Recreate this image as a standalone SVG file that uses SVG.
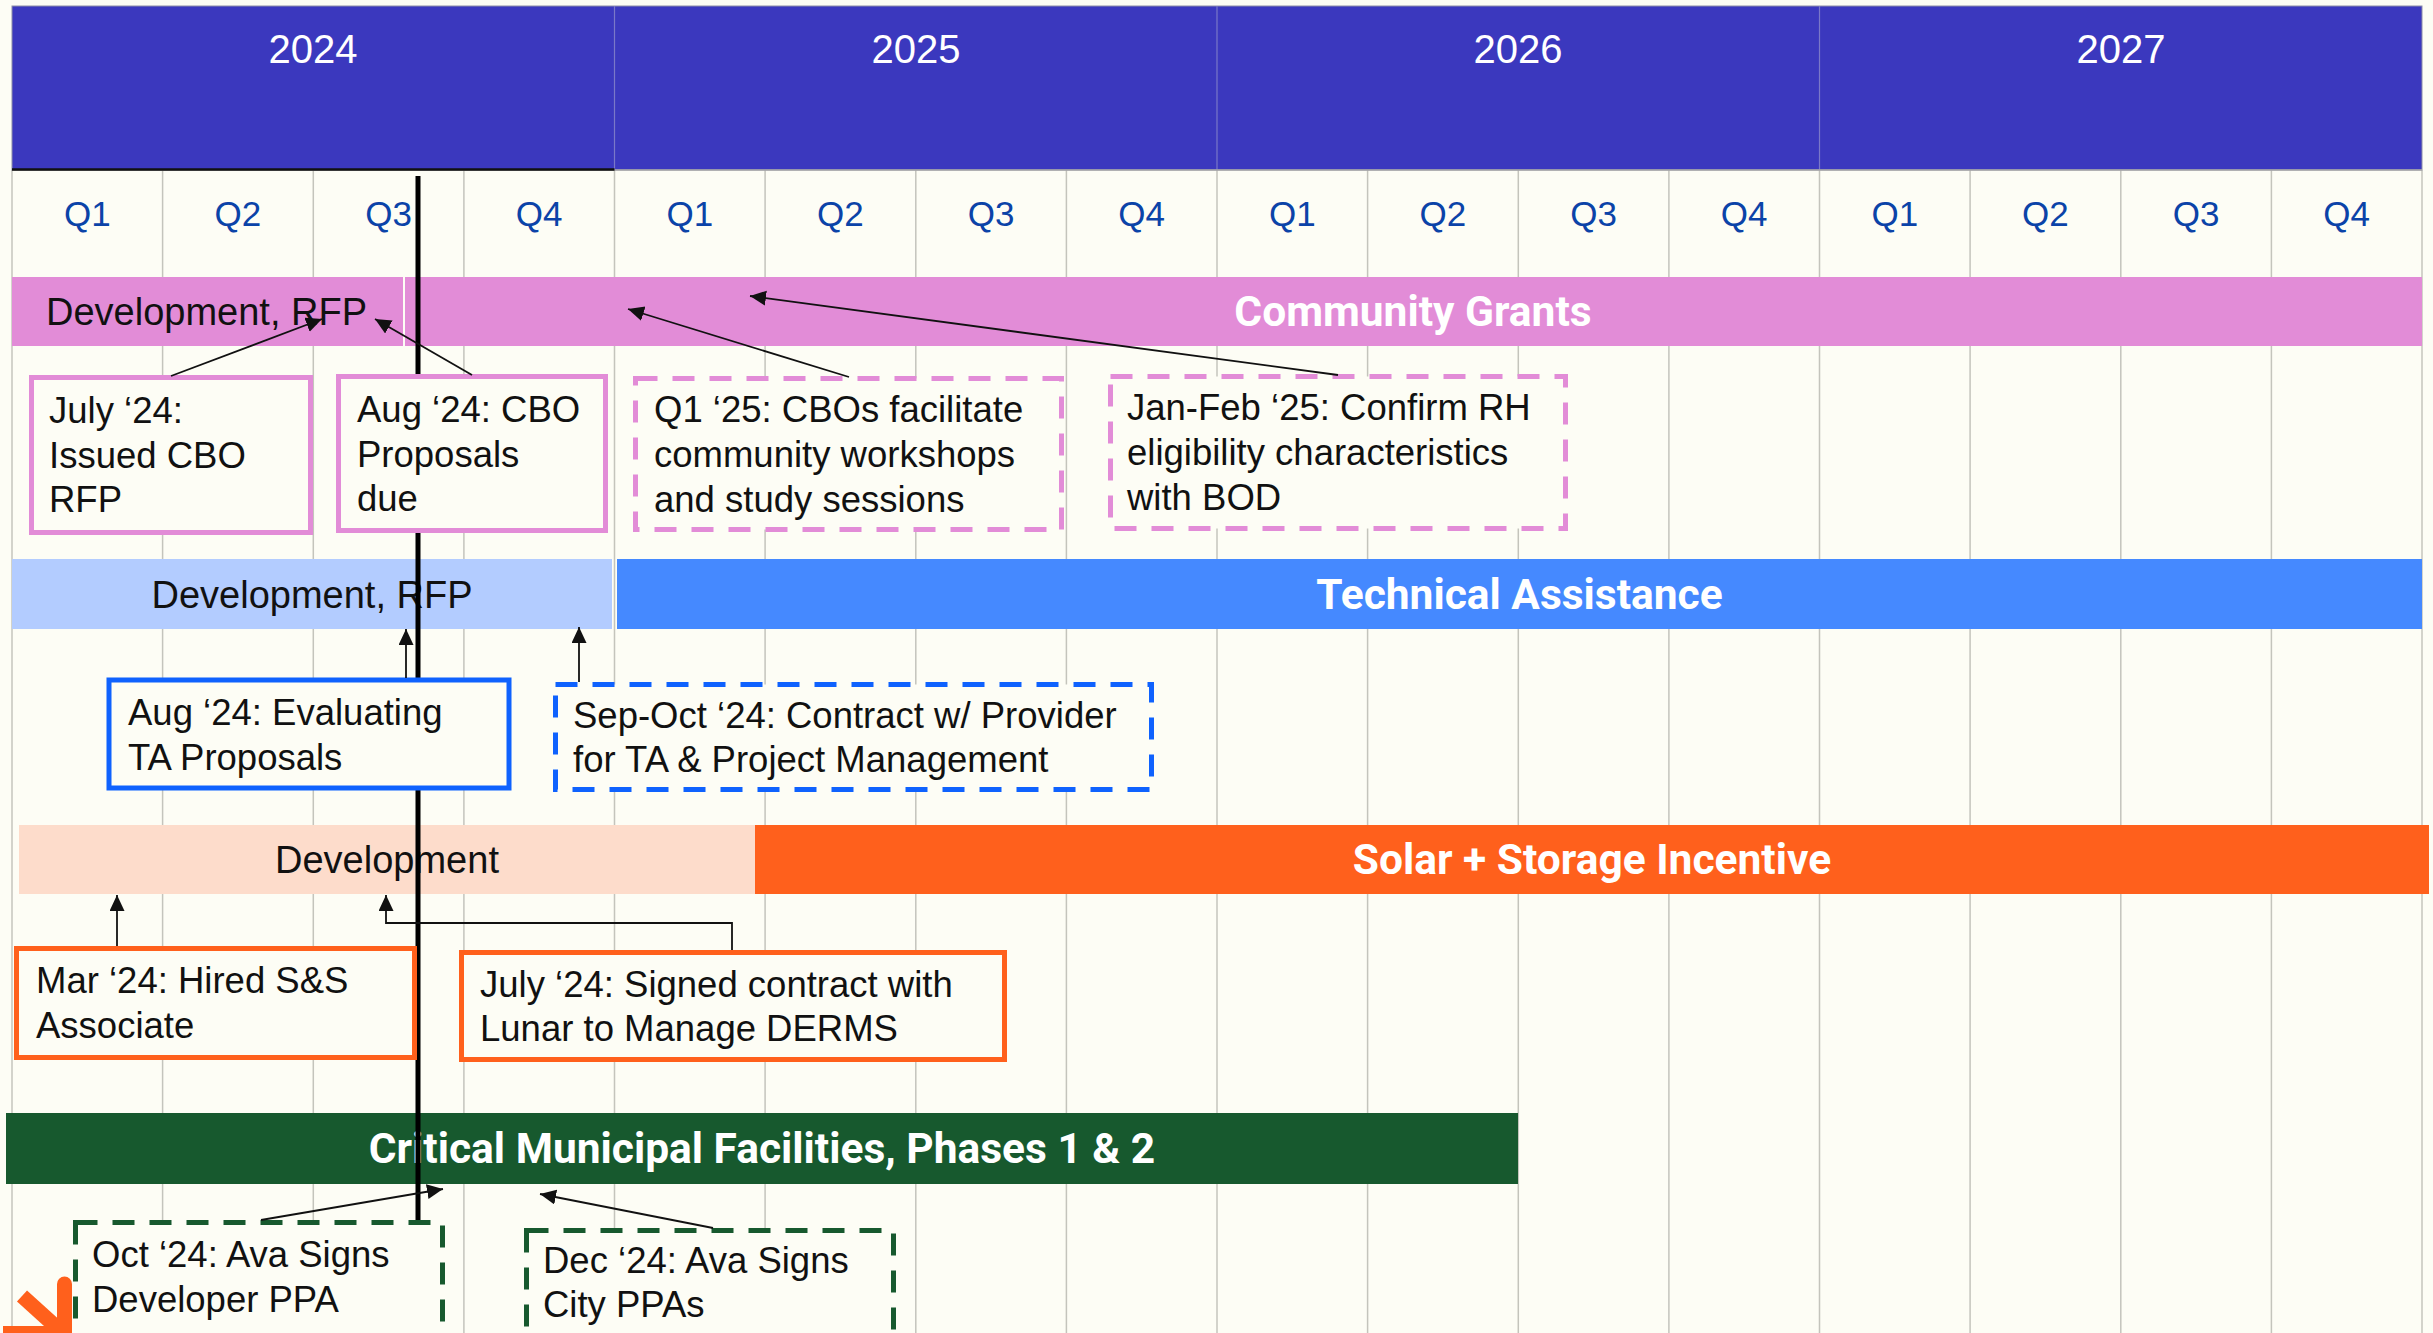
<svg xmlns="http://www.w3.org/2000/svg" width="2433" height="1333" viewBox="0 0 2433 1333">
<defs>
<style>
.bg{fill:#FDFDF5}
.grid{stroke:#C4C4BC;stroke-width:1.5}
.yr{font-family:"Liberation Sans",Arial,sans-serif;font-size:40px;fill:#FFFFFF;text-anchor:middle}
.q{font-family:"Liberation Sans",Arial,sans-serif;font-size:35px;fill:#0B43A8;text-anchor:middle}
.bt{font-family:Roboto,"Liberation Sans",sans-serif;font-weight:bold;font-size:42.5px;fill:#FFFFFF;text-anchor:middle}
.bd{font-family:"Liberation Sans",Arial,sans-serif;font-size:38px;fill:#111111}
.tx{font-family:"Liberation Sans",Arial,sans-serif;font-size:36.5px;fill:#111111}
.box{fill:#FDFDF5;stroke-width:5}
.pink{stroke:#E28CD7}
.blue{stroke:#0F62FE}
.org{stroke:#FF601C}
.grn{stroke:#17592E}
.dash{stroke-dasharray:22 15}
.conn{fill:none;stroke:#111111;stroke-width:1.8}
</style>
<marker id="ah" markerUnits="userSpaceOnUse" markerWidth="17" markerHeight="16" refX="16" refY="7.5" orient="auto" viewBox="0 0 17 16">
<path d="M0,0 L16,7.5 L0,15 Z" fill="#111111"/>
</marker>
</defs>
<rect class="bg" x="0" y="0" width="2433" height="1333"/>

<g id="grid">
<line class="grid" x1="12" y1="170" x2="12" y2="1333"/>
<line class="grid" x1="162.6" y1="170" x2="162.6" y2="1333"/>
<line class="grid" x1="313.3" y1="170" x2="313.3" y2="1333"/>
<line class="grid" x1="463.9" y1="170" x2="463.9" y2="1333"/>
<line class="grid" x1="614.5" y1="170" x2="614.5" y2="1333"/>
<line class="grid" x1="765.1" y1="170" x2="765.1" y2="1333"/>
<line class="grid" x1="915.8" y1="170" x2="915.8" y2="1333"/>
<line class="grid" x1="1066.4" y1="170" x2="1066.4" y2="1333"/>
<line class="grid" x1="1217" y1="170" x2="1217" y2="1333"/>
<line class="grid" x1="1367.6" y1="170" x2="1367.6" y2="1333"/>
<line class="grid" x1="1518.3" y1="170" x2="1518.3" y2="1333"/>
<line class="grid" x1="1668.9" y1="170" x2="1668.9" y2="1333"/>
<line class="grid" x1="1819.5" y1="170" x2="1819.5" y2="1333"/>
<line class="grid" x1="1970.1" y1="170" x2="1970.1" y2="1333"/>
<line class="grid" x1="2120.8" y1="170" x2="2120.8" y2="1333"/>
<line class="grid" x1="2271.4" y1="170" x2="2271.4" y2="1333"/>
<line class="grid" x1="2422" y1="170" x2="2422" y2="1333"/>
</g>

<g id="header">
<rect x="12" y="6" width="2410" height="164" fill="#3B38BE" stroke="#8E8EA8" stroke-width="1"/>
<line x1="614.5" y1="6" x2="614.5" y2="170" stroke="#7A78C8" stroke-width="1.2"/>
<line x1="1217" y1="6" x2="1217" y2="170" stroke="#7A78C8" stroke-width="1.2"/>
<line x1="1819.5" y1="6" x2="1819.5" y2="170" stroke="#7A78C8" stroke-width="1.2"/>
<line x1="12" y1="170" x2="2422" y2="170" stroke="#A8A8A8" stroke-width="1.5"/>
<line x1="12" y1="169.5" x2="614.5" y2="169.5" stroke="#111111" stroke-width="2.5"/>
<text class="yr" x="313" y="63">2024</text>
<text class="yr" x="916" y="63">2025</text>
<text class="yr" x="1518" y="63">2026</text>
<text class="yr" x="2121" y="63">2027</text>
<text class="q" x="87.3" y="226">Q1</text>
<text class="q" x="237.9" y="226">Q2</text>
<text class="q" x="388.6" y="226">Q3</text>
<text class="q" x="539.2" y="226">Q4</text>
<text class="q" x="689.8" y="226">Q1</text>
<text class="q" x="840.4" y="226">Q2</text>
<text class="q" x="991.1" y="226">Q3</text>
<text class="q" x="1141.7" y="226">Q4</text>
<text class="q" x="1292.3" y="226">Q1</text>
<text class="q" x="1442.9" y="226">Q2</text>
<text class="q" x="1593.6" y="226">Q3</text>
<text class="q" x="1744.2" y="226">Q4</text>
<text class="q" x="1894.8" y="226">Q1</text>
<text class="q" x="2045.4" y="226">Q2</text>
<text class="q" x="2196.1" y="226">Q3</text>
<text class="q" x="2346.7" y="226">Q4</text>
</g>

<g id="bar-community-grants">
<rect x="12" y="277" width="391" height="69" fill="#E28CD7"/>
<rect x="405" y="277" width="2017" height="69" fill="#E28CD7"/>
<text class="bd" x="46" y="325">Development, RFP</text>
<text class="bt" x="1413" y="326">Community Grants</text>
</g>

<g id="bar-technical-assistance">
<rect x="12" y="559" width="600" height="70" fill="#B3CCFF"/>
<rect x="617" y="559" width="1805" height="70" fill="#4589FF"/>
<text class="bd" x="312" y="608" text-anchor="middle">Development, RFP</text>
<text class="bt" x="1519.5" y="609">Technical Assistance</text>
</g>

<g id="bar-solar-storage">
<rect x="19" y="825" width="736" height="69" fill="#FDDCCB"/>
<rect x="755" y="825" width="1674" height="69" fill="#FF601C"/>
<text class="bd" x="387" y="873" text-anchor="middle">Development</text>
<text class="bt" x="1592" y="874">Solar + Storage Incentive</text>
</g>

<g id="bar-critical-municipal">
<rect x="6" y="1113" width="1512" height="71" fill="#17592E"/>
<text class="bt" x="762" y="1163">Critical Municipal Facilities, Phases 1 &amp; 2</text>
</g>

<g id="today-line">
<line x1="418" y1="176" x2="418" y2="1333" stroke="#000000" stroke-width="5"/>
</g>

<g id="logo">
<path d="M22 1296 L64 1334" stroke="#FF601C" stroke-width="15" fill="none"/>
<path d="M64.5 1284 V1333" stroke="#FF601C" stroke-width="15" stroke-linecap="round" fill="none"/>
<rect x="3" y="1326" width="69" height="7" fill="#FF601C"/>
</g>

<g id="box-july24-cbo-rfp">
<rect class="box pink" x="31.5" y="377.5" width="279" height="155"/>
<text class="tx" x="49" y="423">July ‘24:</text>
<text class="tx" x="49" y="468">Issued CBO</text>
<text class="tx" x="49" y="512">RFP</text>
</g>

<g id="box-aug24-cbo-proposals">
<rect class="box pink" x="338.5" y="376.5" width="267" height="154"/>
<text class="tx" x="357" y="422">Aug ‘24: CBO</text>
<text class="tx" x="357" y="467">Proposals</text>
<text class="tx" x="357" y="511">due</text>
</g>

<g id="box-q125-workshops">
<rect class="box pink dash" x="635.5" y="378.5" width="426" height="151"/>
<text class="tx" x="654" y="422">Q1 ‘25: CBOs facilitate</text>
<text class="tx" x="654" y="467">community workshops</text>
<text class="tx" x="654" y="512">and study sessions</text>
</g>

<g id="box-janfeb25-confirm">
<rect class="box pink dash" x="1110.5" y="376.5" width="455" height="152"/>
<text class="tx" x="1127" y="420">Jan-Feb ‘25: Confirm RH</text>
<text class="tx" x="1127" y="465">eligibility characteristics</text>
<text class="tx" x="1127" y="510">with BOD</text>
</g>

<g id="box-aug24-evaluating">
<rect class="box blue" x="109" y="680" width="400" height="108" stroke-width="6"/>
<text class="tx" x="128" y="725">Aug ‘24: Evaluating</text>
<text class="tx" x="128" y="770">TA Proposals</text>
</g>

<g id="box-sepoct24-contract">
<rect class="box blue dash" x="555.5" y="684.5" width="596" height="105"/>
<text class="tx" x="573" y="728">Sep-Oct ‘24: Contract w/ Provider</text>
<text class="tx" x="573" y="772">for TA &amp; Project Management</text>
</g>

<g id="box-mar24-hired">
<rect class="box org" x="16.5" y="948.5" width="398" height="109"/>
<text class="tx" x="36" y="993">Mar ‘24: Hired S&amp;S</text>
<text class="tx" x="36" y="1038">Associate</text>
</g>

<g id="box-july24-lunar">
<rect class="box org" x="461.5" y="952.5" width="543" height="107"/>
<text class="tx" x="480" y="997">July ‘24: Signed contract with</text>
<text class="tx" x="480" y="1041">Lunar to Manage DERMS</text>
</g>

<g id="box-oct24-developer-ppa">
<rect class="box grn dash" x="75.5" y="1222.5" width="367" height="125"/>
<text class="tx" x="92" y="1267">Oct ‘24: Ava Signs</text>
<text class="tx" x="92" y="1312">Developer PPA</text>
</g>

<g id="box-dec24-city-ppas">
<rect class="box grn dash" x="526.5" y="1230.5" width="367" height="125"/>
<text class="tx" x="543" y="1273">Dec ‘24: Ava Signs</text>
<text class="tx" x="543" y="1317">City PPAs</text>
</g>

<g id="connectors">
<line class="conn" x1="171" y1="376" x2="322" y2="319" marker-end="url(#ah)"/>
<line class="conn" x1="472" y1="375" x2="375" y2="319" marker-end="url(#ah)"/>
<line class="conn" x1="849" y1="377" x2="628" y2="309" marker-end="url(#ah)"/>
<line class="conn" x1="1338" y1="375" x2="750" y2="296" marker-end="url(#ah)"/>
<line class="conn" x1="406" y1="678" x2="406" y2="629" marker-end="url(#ah)"/>
<line class="conn" x1="579" y1="682" x2="579" y2="627" marker-end="url(#ah)"/>
<line class="conn" x1="117" y1="946" x2="117" y2="895" marker-end="url(#ah)"/>
<polyline class="conn" points="732,950 732,923 386,923 386,895" marker-end="url(#ah)"/>
<line class="conn" x1="261" y1="1220" x2="443" y2="1189" marker-end="url(#ah)"/>
<line class="conn" x1="713" y1="1228" x2="540" y2="1194" marker-end="url(#ah)"/>
</g>
</svg>
